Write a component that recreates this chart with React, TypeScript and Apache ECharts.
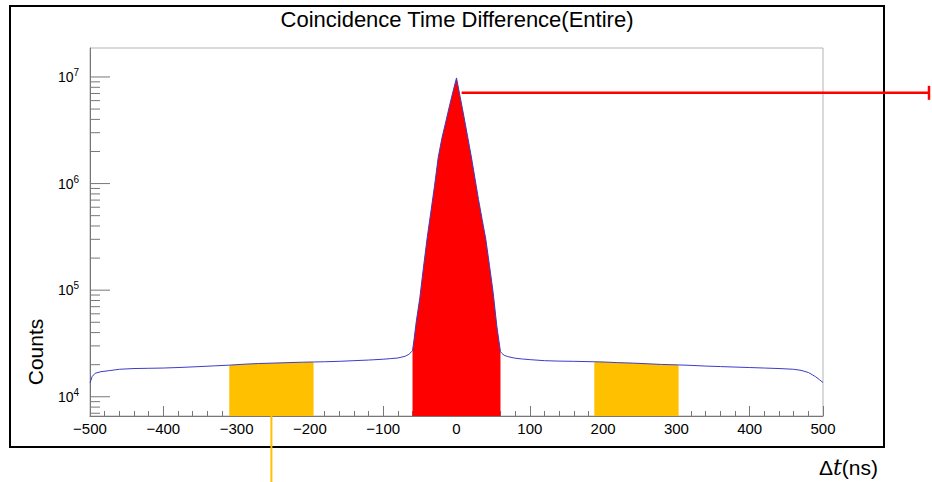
import React, { useEffect, useRef } from "react";
import * as echarts from "echarts";

// Coincidence time difference histogram, sampled along Δt (ns)
const dtNs = [
  -500, -497, -493, -485, -473, -460, -440, -420, -400, -380, -350, -330, -310, -290, -270, -250, -230, -210, -195,
  -180, -160, -140, -120, -100, -90, -80, -70, -65, -62, -60, -58, -55, -50, -45, -40, -35, -30, -25, -20, -15, -10,
  -5, 0, 5, 10, 15, 20, 25, 30, 35, 40, 45, 50, 55, 58, 60, 62, 65, 70, 80, 90, 100, 120, 140, 160, 188, 200, 220,
  240, 260, 280, 303, 320, 340, 360, 380, 400, 420, 440, 460, 470, 480, 486, 490, 495, 500,
];
const counts = [
  13500, 15500, 16600, 17200, 17600, 18100, 18400, 18500, 18600, 18800, 19200, 19500, 19800, 20200, 20500, 20700,
  20900, 21100, 21200, 21300, 21500, 21800, 22100, 22500, 22800, 23100, 24000, 25000, 26200, 27000, 34000, 50000,
  85000, 165000, 310000, 540000, 950000, 1750000, 2650000, 3700000, 5200000, 7200000, 9800000, 6500000, 4300000,
  2800000, 1820000, 1140000, 710000, 460000, 300000, 170000, 95000, 46000, 33000, 26500, 25500, 24500, 23800, 23000,
  22600, 22300, 21800, 21600, 21500, 21300, 21200, 20900, 20700, 20400, 20100, 19900, 19700, 19400, 19200, 19000,
  18800, 18600, 18400, 18100, 17700, 16900, 16000, 15400, 14500, 13600,
];

// Prompt coincidence window and the two accidental (side) windows, in ns
const promptWindow = [-60, 60];
const sideWindows = [
  [-310, -195],
  [188, 303],
];

// Axis ranges
const X_MIN = -500;
const X_MAX = 500;
const X_STEP = 100;
const Y_MIN = 6600;
const Y_MAX = 1.87e7;

// Log-axis tick values (majors at decades, minors at 2..9)
const yTickValues = [
  7000, 8000, 9000, 1e4, 2e4, 3e4, 4e4, 5e4, 6e4, 7e4, 8e4, 9e4, 1e5, 2e5, 3e5, 4e5, 5e5, 6e5, 7e5, 8e5, 9e5, 1e6,
  2e6, 3e6, 4e6, 5e6, 6e6, 7e6, 8e6, 9e6, 1e7,
];

// Point on the prompt peak flank that the arrow points to
const arrowAnchor = [7, 7.1e6];

const titleText = "Coincidence Time Difference(Entire)";
const yTitle = "Counts";

const FONT = "'Liberation Sans', Arial, Helvetica, sans-serif";
const AXIS_GRAY = "#777777";
const RED = "#ff0000";
const ORANGE = "#ffc000";

const points = dtNs.map((x, i) => [x, counts[i]]);
const windowPoints = (lo: number, hi: number) => points.filter(([x]) => x >= lo && x <= hi);

const isDecade = (v: number) => Math.abs(Math.log10(v) - Math.round(Math.log10(v))) < 1e-9;

export default function App() {
  const ref = useRef<HTMLDivElement>(null);

  useEffect(() => {
    if (!ref.current) return;
    const chart = echarts.init(ref.current, undefined, { renderer: "svg" });

    const fillSeries = (data: number[][], color: string) => ({
      type: "line",
      data,
      showSymbol: false,
      silent: true,
      lineStyle: { opacity: 0, width: 0 },
      areaStyle: { color, opacity: 1, origin: "start" },
      z: 2,
    });

    chart.setOption({
      animation: false,
      grid: {
        left: 90,
        top: 48,
        width: 733,
        height: 368,
        show: true,
        borderColor: "#b4b4b4",
        borderWidth: 1,
        backgroundColor: "transparent",
      },
      xAxis: {
        type: "value",
        min: X_MIN,
        max: X_MAX,
        interval: X_STEP,
        axisLine: { show: true, onZero: false, lineStyle: { color: AXIS_GRAY, width: 1 } },
        axisTick: { show: true, inside: true, length: 10, lineStyle: { color: AXIS_GRAY } },
        minorTick: { show: true, splitNumber: 5, length: 5, lineStyle: { color: AXIS_GRAY } },
        splitLine: { show: false },
        axisLabel: {
          margin: 5,
          fontFamily: FONT,
          fontSize: 15,
          color: "#000",
          formatter: (v: number) => String(v).replace("-", "\u2212"),
        },
      },
      yAxis: {
        type: "log",
        logBase: 10,
        min: Y_MIN,
        max: Y_MAX,
        axisLine: { show: true, onZero: false, lineStyle: { color: AXIS_GRAY, width: 1 } },
        axisTick: { show: false },
        splitLine: { show: false },
        axisLabel: {
          margin: 11,
          fontFamily: FONT,
          color: "#000",
          formatter: (v: number) => (isDecade(v) ? `{b|10}{s|${Math.round(Math.log10(v))}}` : ""),
          rich: {
            b: { fontSize: 14, fontFamily: FONT, color: "#000" },
            s: { fontSize: 10, fontFamily: FONT, color: "#000", padding: [0, 0, 9, 0] },
          },
        },
      },
      series: [
        fillSeries(windowPoints(promptWindow[0], promptWindow[1]), RED),
        ...sideWindows.map(([lo, hi]) => fillSeries(windowPoints(lo, hi), ORANGE)),
        {
          type: "line",
          data: points,
          showSymbol: false,
          silent: true,
          lineStyle: { color: "#3c3cc8", width: 1 },
          z: 3,
        },
        {
          type: "custom",
          coordinateSystem: "cartesian2d",
          silent: true,
          clip: false,
          z: 5,
          data: yTickValues.map((v) => [X_MIN, v]),
          renderItem: (_params: any, api: any) => {
            const v = api.value(1);
            const p = api.coord([api.value(0), v]);
            const len = isDecade(v) ? 20 : 10;
            return {
              type: "line",
              shape: { x1: p[0], y1: p[1], x2: p[0] + len, y2: p[1] },
              style: { stroke: AXIS_GRAY, lineWidth: 1 },
            };
          },
        },
      ],
    });

    // Annotations positioned from the data coordinates
    const start = chart.convertToPixel({ gridIndex: 0 }, arrowAnchor) as number[];
    const sideCenter = (sideWindows[0][0] + sideWindows[0][1]) / 2;
    const axisBottom = chart.convertToPixel({ gridIndex: 0 }, [sideCenter, Y_MIN]) as number[];
    const arrowEndX = 929;

    chart.setOption({
      graphic: [
        {
          type: "rect",
          shape: { x: 10, y: 6, width: 874, height: 441 },
          style: { fill: "none", stroke: "#000", lineWidth: 2 },
          z: 10,
        },
        {
          type: "text",
          x: 457,
          y: 19,
          style: {
            text: titleText,
            font: `22px ${FONT}`,
            fill: "#000",
            align: "center",
            verticalAlign: "middle",
          },
          z: 10,
        },
        {
          type: "text",
          x: 35,
          y: 352,
          rotation: Math.PI / 2,
          style: {
            text: yTitle,
            font: `21px ${FONT}`,
            fill: "#000",
            align: "center",
            verticalAlign: "middle",
          },
          z: 10,
        },
        {
          type: "text",
          x: 878,
          y: 467,
          style: {
            text: "{a|\u0394}{t|t}{a|(ns)}",
            align: "right",
            verticalAlign: "middle",
            rich: {
              a: { fontSize: 21, fontFamily: FONT, fill: "#000", color: "#000" },
              t: {
                fontSize: 22,
                fontFamily: "'DejaVu Serif', 'Liberation Serif', serif",
                fontStyle: "italic",
                fill: "#000",
                color: "#000",
              },
            },
          },
          z: 10,
        },
        {
          type: "line",
          shape: { x1: start[0], y1: start[1], x2: arrowEndX, y2: start[1] },
          style: { stroke: RED, lineWidth: 2.5 },
          z: 20,
        },
        {
          type: "line",
          shape: { x1: arrowEndX, y1: start[1] - 7, x2: arrowEndX, y2: start[1] + 7 },
          style: { stroke: RED, lineWidth: 2.5 },
          z: 20,
        },
        {
          type: "line",
          shape: { x1: axisBottom[0], y1: axisBottom[1], x2: axisBottom[0], y2: 482 },
          style: { stroke: ORANGE, lineWidth: 2 },
          z: 20,
        },
      ],
    });

    return () => chart.dispose();
  }, []);

  return (
    <div
      ref={ref}
      style={{ position: "absolute", left: 0, top: 0, width: 932, height: 482, background: "#fff" }}
    />
  );
}
